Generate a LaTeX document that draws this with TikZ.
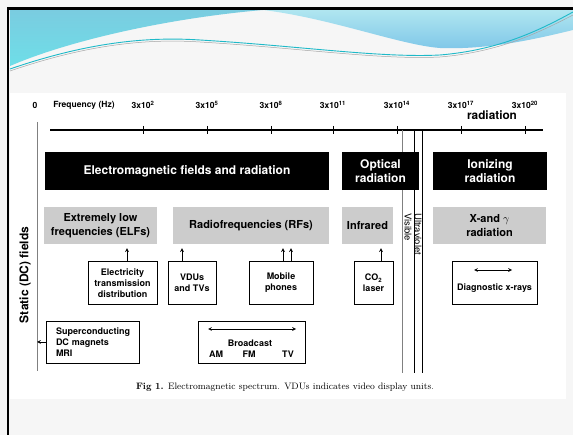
\documentclass[tikz,border=0pt]{standalone}
\usepackage{fontspec}
\setsansfont{TeX Gyre Heros}
\definecolor{boxgray}{RGB}{204,204,204}
\definecolor{slidebg}{RGB}{246,246,246}
\definecolor{waveA}{RGB}{122,204,224}
\definecolor{waveB}{RGB}{110,222,232}
\definecolor{waveC}{RGB}{176,230,240}
\definecolor{waveD}{RGB}{126,198,232}
\definecolor{waveline}{RGB}{30,185,200}
\begin{document}
\begin{tikzpicture}[x=1pt,y=-1pt,>=stealth,
	hz/.style={font=\sffamily\bfseries\fontsize{8.5}{10}\selectfont,inner sep=0pt},
	bandbox/.style={fill=black,text=white,align=center,inner sep=0pt,minimum height=38pt,font=\sffamily\bfseries\fontsize{12}{14.5}\selectfont},
	freqbox/.style={fill=boxgray,align=center,inner sep=0pt,minimum height=37pt,font=\sffamily\bfseries\fontsize{11}{14}\selectfont},
	sourcebox/.style={draw,line width=0.7pt,fill=white,align=center,inner sep=0pt,minimum height=43pt,font=\sffamily\bfseries\fontsize{9}{11}\selectfont},
	smalltext/.style={font=\sffamily\bfseries\fontsize{9}{11}\selectfont,inner sep=0pt},
	optic/.style={rotate=-90,anchor=west,inner sep=0pt,font=\sffamily\fontsize{9.5}{10}\selectfont},
	feed/.style={->,line width=0.7pt,shorten >=4pt}]
	\useasboundingbox (0,0) rectangle (573,435);
	\fill[slidebg] (0,0) rectangle (573,435);
	\fill[white] (10,93) rectangle (566,399);
	\shade[top color=waveA,bottom color=waveB] (10,10) -- (263,10) .. controls (170,18) and (70,40) .. (10,66) -- cycle;
	\shade[top color=waveC,bottom color=waveD] (263,10) .. controls (330,18) and (400,45) .. (440,48) .. controls (490,50) and (540,38) .. (573,30) -- (573,10) -- cycle;
	\draw[waveline,line width=0.9pt] (10,69) .. controls (80,45) and (140,36) .. (200,40) .. controls (300,46) and (380,58) .. (440,55) .. controls (500,50) and (540,30) .. (573,12);
	\draw[gray!70,line width=0.5pt] (10,71) .. controls (80,47) and (140,38) .. (200,42) .. controls (300,48) and (380,60) .. (440,57) .. controls (500,52) and (540,32) .. (573,15);
	\draw[line width=2.6pt] (8,435) -- (8,8.7) -- (573,8.7);
	% frequency axis
	\node[hz] (zero) at (35,105) {0};
	\node[hz] (freq) at (84,105) {Frequency (Hz)};
	\node[font=\sffamily\bfseries\fontsize{11.8}{13}\selectfont,inner sep=0pt] (rad) at (492,115) {radiation};
	\coordinate (ax0) at (50,130);
	\coordinate (ax1) at (543,130);
	\draw[line width=1.1pt] (ax0) -- (ax1);
	\foreach \x/\e [count=\i] in {143/2,207/5,271/8,333/11,397/14,461/17,525/20}
	{\draw[line width=0.7pt] (\x,126) -- (\x,134);
	\node[hz] (f\i) at (\x,105) {3x10\textsuperscript{\e}};}
	\draw[gray,line width=0.6pt] (402,130) -- (402,373);
	\draw[line width=0.9pt] (414,130) -- (414,373);
	\draw[line width=0.9pt] (422,130) -- (422,373);
	\node[optic] (vis) at (408,213) {Visible};
	\node[optic] (uv) at (418,213) {Ultraviolet};
	% static fields
	\coordinate (dc0) at (37,122);
	\coordinate (dc1) at (37,371);
	\draw[gray,line width=0.8pt] (dc0) -- (dc1);
	\node[rotate=90,inner sep=0pt,font=\sffamily\bfseries\fontsize{12}{14}\selectfont] (dcl) at (25,275) {Static (DC) fields};
	% bands
	\node[bandbox,minimum width=284pt] (emf) at (187,171) {Electromagnetic fields and radiation};
	\node[bandbox,minimum width=77pt] (opt) at (380.5,171) {Optical\\radiation};
	\node[bandbox,minimum width=114pt] (ion) at (490,171) {Ionizing\\radiation};
	\node[freqbox,minimum width=113pt] (elf) at (100.5,225.5) {Extremely low\\frequencies (ELFs)};
	\node[freqbox,minimum width=156pt] (rf) at (251,225.5) {Radiofrequencies (RFs)};
	\node[freqbox,minimum width=51pt] (ir) at (367.5,225.5) {Infrared};
	\node[freqbox,minimum width=113pt] (xg) at (489.5,225.5) {X-and $\gamma$\\radiation};
	% sources
	\node[sourcebox,minimum width=69pt] (elec) at (122.5,283) {Electricity\\transmission\\distribution};
	\node[sourcebox,minimum width=48pt] (vdu) at (192,283) {VDUs\\and TVs};
	\node[sourcebox,minimum width=64pt] (mob) at (281,283) {Mobile\\phones};
	\node[sourcebox,minimum width=39pt] (laser) at (373.5,283) {CO\textsubscript{2}\\laser};
	\node[sourcebox,minimum width=85pt] (diag) at (494.5,283) {};
	\node[smalltext] (diagt) at ([yshift=-5pt]diag.center) {Diagnostic x-rays};
	\coordinate (dg0) at (474,270);
	\coordinate (dg1) at (512,270);
	\draw[<->,line width=0.7pt] (dg0) -- (dg1);
	\draw[feed] ([xshift=4.5pt]elec.north) -- ([xshift=4.5pt]elec.north |- elf.south);
	\draw[feed] ([xshift=-10pt]vdu.north) -- ([xshift=-10pt]vdu.north |- rf.south);
	\draw[feed] ([xshift=2pt]mob.north) -- ([xshift=2pt]mob.north |- rf.south);
	\draw[feed] ([xshift=10pt]mob.north) -- ([xshift=10pt]mob.north |- rf.south);
	\draw[feed] ([xshift=7.5pt]laser.north) -- ([xshift=7.5pt]laser.north |- ir.south);
	\node[sourcebox,align=left,text width=73pt,inner xsep=10pt,minimum height=42pt] (mri) at (92.5,342) {Superconducting\\DC magnets\\MRI};
	\draw[->,line width=0.7pt] (mri.west) -- (mri.west -| dc0);
	\node[sourcebox,minimum width=107pt,minimum height=42pt] (bc) at (251.5,342) {};
	\coordinate (bc0) at (208,329);
	\coordinate (bc1) at (296,329);
	\draw[<->,line width=0.7pt] (bc0) -- (bc1);
	\node[smalltext] (bct) at (250,343) {Broadcast};
	\node[smalltext] (am) at (216,354) {AM};
	\node[smalltext] (fm) at (249,354) {FM};
	\node[smalltext] (tv) at (288,354) {TV};
	\node[font=\fontsize{9.3}{11}\selectfont,inner sep=0pt] (cap) at (285,387) {\textbf{Fig 1.} Electromagnetic spectrum. VDUs indicates video display units.};
\end{tikzpicture}
\end{document}
